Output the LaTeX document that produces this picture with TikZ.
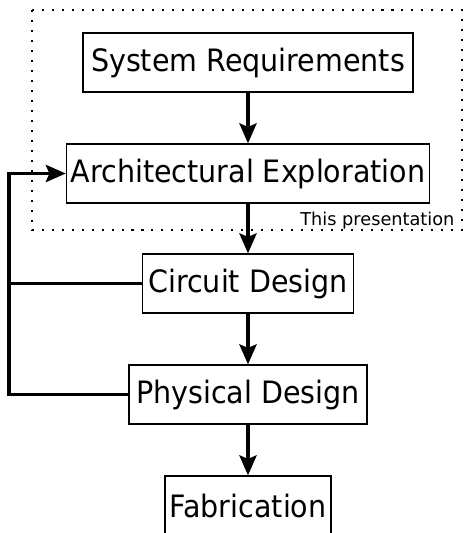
\documentclass[tikz,border=0pt]{standalone}
\usepackage{fontspec}
\usepackage{graphicx}
\setmainfont{DejaVu Sans}
\usetikzlibrary{arrows.meta, positioning}
\newcommand{\tallText}[1]{\scalebox{1}[1.08]{#1}}
\tikzset{
  every picture/.style={line width=0.9pt},
  box/.style={draw, inner xsep=3pt, inner ysep=0pt, minimum height=1.475cm, font=\fontsize{20.3}{24}\selectfont},
  arrow/.style={-{Stealth[length=0.5cm, width=0.43cm, inset=0.09cm]}, line width=2.35pt},
  link/.style={line width=2.35pt},
  note/.style={font=\fontsize{12.6}{15}\selectfont, inner sep=0pt},
  dotbox/.style={line width=1.45pt, dash pattern=on 1.45pt off 5.65pt},
}
\begin{document}
\begin{tikzpicture}[x=0.025cm, y=-0.025cm]
  \useasboundingbox (0,0) rectangle (465,533);
  % scope of the talk
  \draw[dotbox] (32,10) rectangle (462,230);
  \node[note, anchor=base east] (pres) at (455,225) {This presentation};
  % design flow
  \node[box, minimum width=8.25cm] (sys) at (248,62.5) {\tallText{System Requirements}};
  \node[box, minimum width=9.075cm] (arch) at (248,173.5) {\tallText{Architectural Exploration}};
  \node[box, minimum width=5.275cm] (circ) at (248,283.5) {\tallText{Circuit Design}};
  \node[box, minimum width=5.95cm] (phys) at (248,394.5) {\tallText{Physical Design}};
  \node[box, minimum width=4.15cm] (fab) at (248,505.5) {\tallText{Fabrication}};
  \draw[arrow] (sys) -- (arch); \draw[arrow] (arch) -- (circ);
  \draw[arrow] (circ) -- (phys); \draw[arrow] (phys) -- (fab);
  % feedback to exploration
  \coordinate (fb) at (9,394.5);
  \draw[arrow] (phys.west) -- (fb) |- (arch.west);
  \draw[link] (circ.west) -- (circ.west -| fb);
\end{tikzpicture}
\end{document}
